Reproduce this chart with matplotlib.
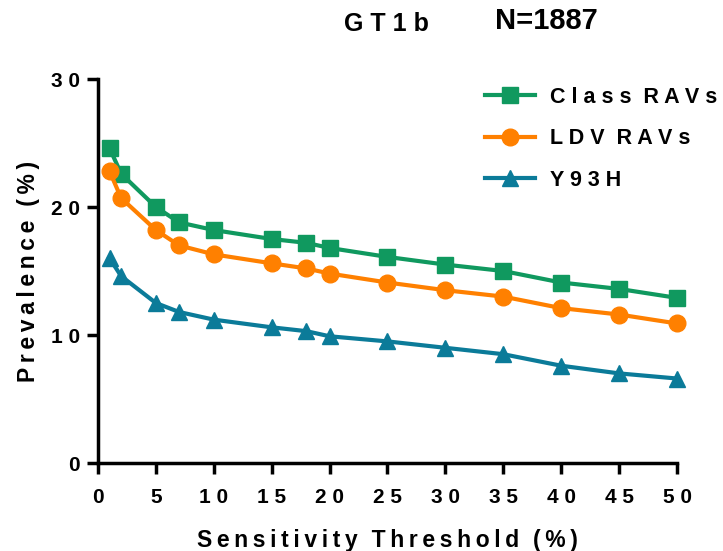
import matplotlib.pyplot as plt

threshold = [1, 2, 5, 7, 10, 15, 18, 20, 25, 30, 35, 40, 45, 50]
class_ravs = [24.6, 22.6, 20.0, 18.8, 18.2, 17.5, 17.2, 16.8, 16.1, 15.5, 15.0, 14.1, 13.6, 12.9]
ldv_ravs = [22.8, 20.7, 18.2, 17.0, 16.3, 15.6, 15.2, 14.8, 14.1, 13.5, 13.0, 12.1, 11.6, 10.9]
y93h = [16.0, 14.6, 12.5, 11.8, 11.2, 10.6, 10.3, 9.9, 9.5, 9.0, 8.5, 7.6, 7.0, 6.6]

x_ticks = [0, 5, 10, 15, 20, 25, 30, 35, 40, 45, 50]
y_ticks = [0, 10, 20, 30]

THIN = '\u2009'


def spaced(s, sep=' ', word_gap=2):
    # letter-spaced text, words separated by a wider gap
    return (sep * word_gap).join(sep.join(w) for w in s.split(' '))


plt.rcParams['font.family'] = ['Liberation Sans', 'DejaVu Sans']
plt.rcParams['font.weight'] = 'bold'

fig = plt.figure(figsize=(7.23, 5.51), dpi=100)
ax = fig.add_axes([0.1355, 0.1597, 0.8009, 0.6969])

ax.plot(threshold, class_ravs, color='#10995f', lw=3, marker='s', ms=11,
        label=spaced('Class RAVs'), clip_on=False)
ax.plot(threshold, ldv_ravs, color='#ff8000', lw=3, marker='o', ms=12,
        label=spaced('LDV RAVs'), clip_on=False)
ax.plot(threshold, y93h, color='#0b7b99', lw=3, marker='^', ms=12,
        label=spaced('Y93H'), clip_on=False)

ax.set_xlim(0, 50)
ax.set_ylim(0, 30)
ax.set_xticks(x_ticks)
ax.set_yticks(y_ticks)
ax.set_xticklabels([spaced(str(t)) for t in x_ticks], fontsize=15, fontweight='bold')
ax.set_yticklabels([spaced(str(t)) for t in y_ticks], fontsize=15, fontweight='bold')

for side in ['top', 'right']:
    ax.spines[side].set_visible(False)
for side in ['left', 'bottom']:
    ax.spines[side].set_linewidth(2.5)
ax.tick_params(direction='out', length=8, width=2.5)
ax.tick_params(axis='x', pad=10)
ax.tick_params(axis='y', pad=5)

ax.set_xlabel(spaced('Sensitivity Threshold (%)', THIN, 3),
              fontsize=16.5, fontweight='bold', labelpad=16)
ax.set_ylabel(spaced('Prevalence (%)', THIN, 3),
              fontsize=16.5, fontweight='bold', labelpad=8)

fig.text(0.534, 0.956, ' '.join('GT1b'), fontsize=18, fontweight='bold', ha='center', va='center')
fig.text(0.756, 0.962, 'N=1887', fontsize=21, fontweight='bold', ha='center', va='center')

leg = ax.legend(loc='upper left', bbox_to_anchor=(0.635, 1.03), frameon=False,
                fontsize=15.5, handlelength=2.3, labelspacing=0.95, handletextpad=0.7)

fig.savefig('out.png', dpi=100)
